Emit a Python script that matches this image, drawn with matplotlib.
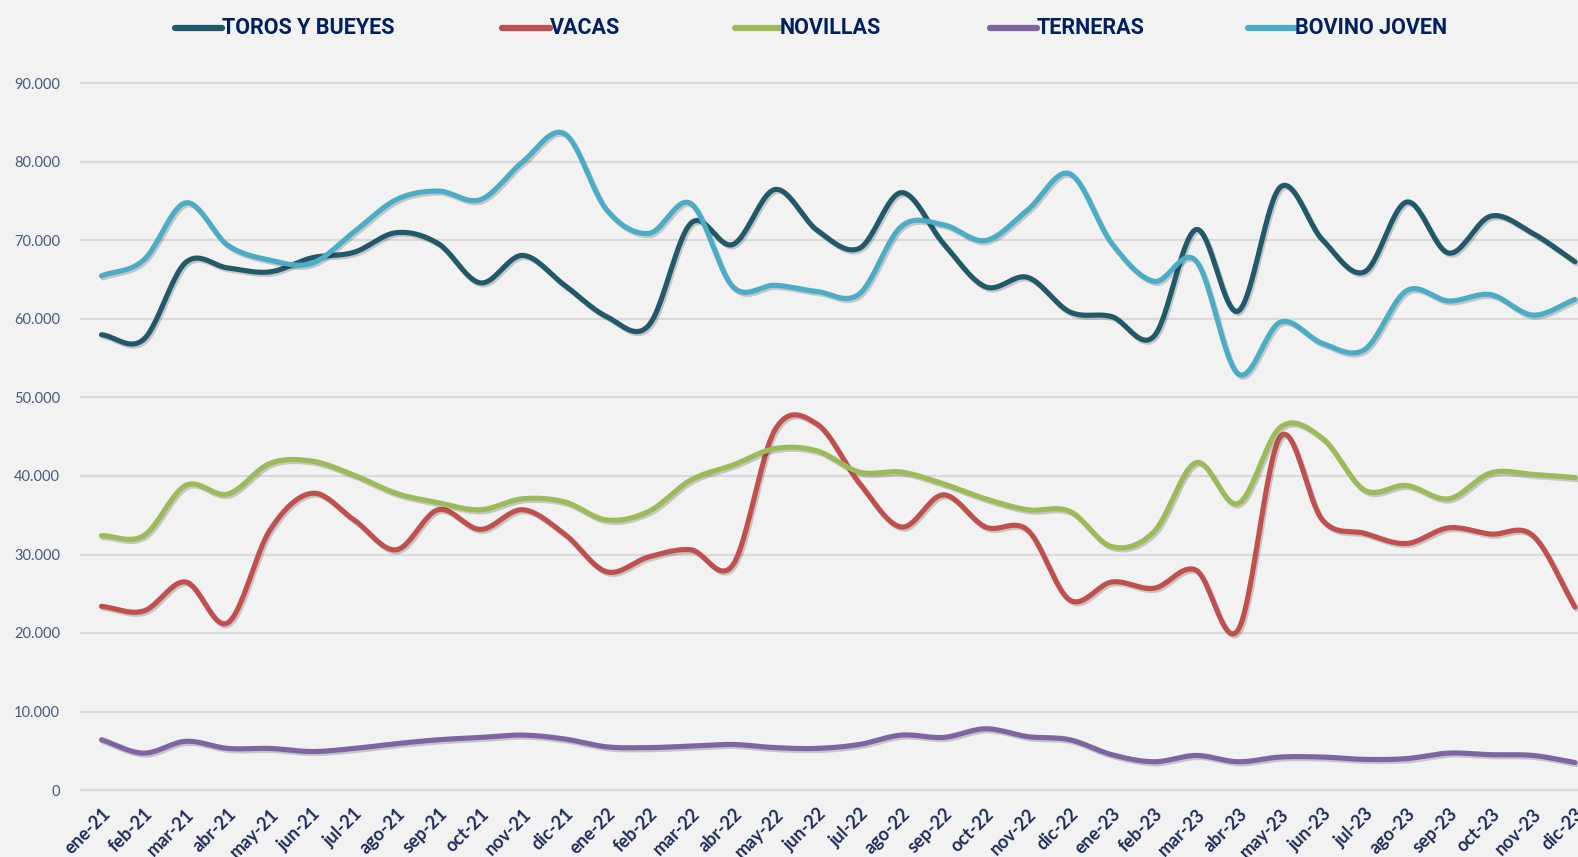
import numpy as np
import matplotlib
matplotlib.use("Agg")
import matplotlib.pyplot as plt
from matplotlib.lines import Line2D
import matplotlib.patheffects as pe

months = ["ene-21","feb-21","mar-21","abr-21","may-21","jun-21","jul-21","ago-21","sep-21","oct-21","nov-21","dic-21",
          "ene-22","feb-22","mar-22","abr-22","may-22","jun-22","jul-22","ago-22","sep-22","oct-22","nov-22","dic-22",
          "ene-23","feb-23","mar-23","abr-23","may-23","jun-23","jul-23","ago-23","sep-23","oct-23","nov-23","dic-23"]

toros = [58000,57400,67200,66500,66000,67800,68500,71000,69600,64600,68100,64300,
         60300,59200,72200,69500,76500,71300,69000,76100,69600,64100,65300,60900,
         60300,57800,71400,61000,76800,70100,66000,74900,68400,73100,70900,67300]
vacas = [23400,22800,26500,21300,33100,37800,34400,30600,35700,33200,35700,32600,
         27800,29700,30600,28700,45900,46600,39100,33500,37600,33500,33100,24200,
         26500,25700,28000,20400,45000,34400,32700,31400,33400,32600,32400,23300]
novillas = [32400,32400,38800,37700,41600,41900,40100,37800,36600,35700,37100,36700,
            34400,35500,39500,41400,43500,43200,40500,40500,39000,37100,35700,35500,
            31000,32900,41700,36500,46200,44800,38200,38800,37100,40400,40200,39800]
terneras = [6400,4700,6200,5300,5300,4900,5300,5900,6400,6700,7000,6500,
            5500,5400,5600,5800,5400,5300,5800,7000,6700,7800,6800,6400,
            4500,3600,4400,3600,4200,4200,3900,4000,4700,4500,4400,3500]
bovino = [65500,67500,74800,69400,67500,67100,71100,75200,76300,75200,80000,83600,
          73900,70900,74700,64100,64300,63500,63200,71800,72000,70000,73900,78500,
          69600,64800,67400,53000,59600,56900,56100,63600,62300,63100,60500,62500]

series = [("TOROS Y BUEYES", toros, "#215968"),
          ("VACAS", vacas, "#C0504D"),
          ("NOVILLAS", novillas, "#9BBB59"),
          ("TERNERAS", terneras, "#8064A2"),
          ("BOVINO JOVEN", bovino, "#4BACC6")]
yticks = list(range(0, 90001, 10000))


def smooth(xs, ys, n=24):
    p = np.column_stack([xs, ys]).astype(float)
    m = len(p)
    t = np.zeros_like(p)
    t[1:-1] = (p[2:] - p[:-2]) / 2.0
    t[0] = p[1] - p[0]
    t[-1] = p[-1] - p[-2]
    out = []
    u = np.linspace(0, 1, n, endpoint=False)[:, None]
    for i in range(m - 1):
        P0, P3 = p[i], p[i + 1]
        P1 = P0 + t[i] / 3.0
        P2 = P3 - t[i + 1] / 3.0
        b = ((1 - u) ** 3) * P0 + 3 * ((1 - u) ** 2) * u * P1 + 3 * (1 - u) * u ** 2 * P2 + u ** 3 * P3
        out.append(b)
    out.append(p[-1:])
    c = np.vstack(out)
    return c[:, 0], c[:, 1]


W, H = 1578, 857
fig = plt.figure(figsize=(W / 100, H / 100), dpi=100)
fig.patch.set_facecolor("#F2F2F2")
left_px, right_px, top_px, bot_px = 81, 1578, 83.5, 790
ax = fig.add_axes([left_px / W, 1 - bot_px / H, (right_px - left_px) / W, (bot_px - top_px) / H])
ax.set_facecolor("#F2F2F2")

x = np.arange(len(months))
sp = 42.1
ax.set_xlim(-(101.5 - left_px) / sp, 35 + (right_px - 1575) / sp)
ax.set_ylim(0, 90000)

for v in yticks:
    ax.axhline(v, color="#D9D9D9", lw=1.6, zorder=1, clip_on=False)

for name, vals, col in series:
    sx, sy = smooth(x, vals)
    ax.plot(sx, sy, color=col, lw=3.7, solid_capstyle="round", zorder=3,
            path_effects=[pe.SimpleLineShadow(offset=(1.2, -1.5), shadow_color="#000000", alpha=0.18),
                          pe.Normal()])

for s in ax.spines.values():
    s.set_visible(False)

ax.set_yticks(yticks)
ax.set_yticklabels([f"{v:,}".replace(",", ".") for v in yticks],
                   fontsize=10.5, color="#4A5A7A", family=["Lato", "DejaVu Sans"])
ax.tick_params(axis="y", length=0, pad=15)
ax.set_xticks(x)
ax.set_xticklabels(months, rotation=45, ha="right", va="top", rotation_mode="anchor",
                   fontsize=13, fontweight="bold", color="#1F2D5C", family=["Lato", "DejaVu Sans"])
ax.tick_params(axis="x", length=0, pad=11)

# legend
entries = [(175, 222), (502, 550), (735, 780), (990, 1037), (1248, 1295)]
ly = 1 - 28 / H
for (x0, x1), (name, vals, col) in zip(entries, series):
    fig.add_artist(Line2D([x0 / W, x1 / W], [ly, ly], transform=fig.transFigure,
                          color=col, lw=4.5, solid_capstyle="round"))
    fig.text(x1 / W, ly, name, ha="left", va="center", fontweight="bold", fontsize=15.5,
             color="#002060", family=["Roboto", "DejaVu Sans"])

fig.savefig("out.png", dpi=100, facecolor=fig.get_facecolor())
